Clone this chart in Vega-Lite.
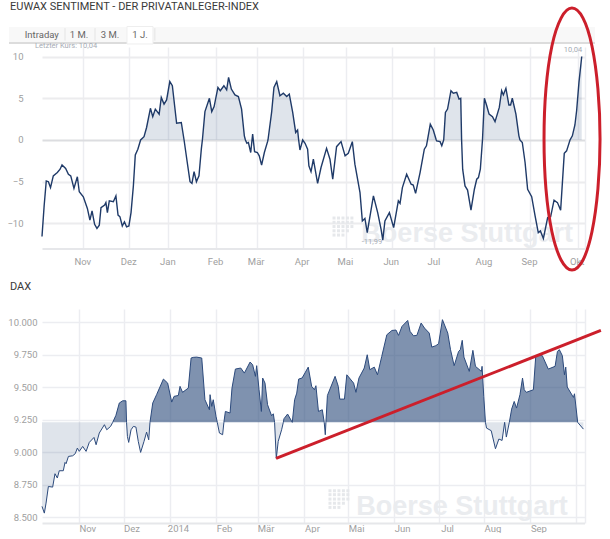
{
  "$schema": "https://vega.github.io/schema/vega-lite/v6.json",
  "padding": {"left": 6, "top": 1, "right": 0, "bottom": 0},
  "background": "white",
  "bounds": "flush",
  "spacing": 60,
  "config": {
    "view": {"stroke": null},
    "font": "Roboto",
    "axis": {"title": null, "ticks": false, "labelColor": "#a0a0a0", "labelFontSize": 9.5, "grid": true, "gridColor": "#ecedf1", "gridWidth": 1.5, "domain": false},
    "title": {"font": "Roboto", "fontWeight": "normal", "fontSize": 11, "color": "#3a3a3a", "anchor": "start", "frame": "group", "dx": -32}
  },
  "vconcat": [
    {
      "title": {"text": "EUWAX SENTIMENT - DER PRIVATANLEGER-INDEX", "offset": -10},
      "width": 542.5,
      "height": 201.5,
      "encoding": {
        "x": {
          "field": "t", "type": "quantitative",
          "scale": {"domain": [0, 254.7], "nice": false, "zero": false},
          "axis": {
            "values": [19.4, 41, 59.3, 81.7, 100.8, 122.4, 142.7, 164.2, 184.2, 207.7, 229.1, 251.5, 254.7],
            "labelExpr": "['Nov','Dez','Jan','Feb','Mär','Apr','Mai','Jun','Jul','Aug','Sep','Okt',''][indexof([19.4,41,59.3,81.7,100.8,122.4,142.7,164.2,184.2,207.7,229.1,251.5,254.7],datum.value)]",
            "labelOffset": -1, "labelPadding": 8, "domain": true, "domainColor": "#e6e7ea", "domainWidth": 2, "labelOverlap": false, "labelFlush": false
          }
        },
        "y": {
          "field": "v", "type": "quantitative",
          "scale": {"domain": [-13, 11.14], "nice": false, "zero": false},
          "axis": {
            "values": [-10, -5, 0, 5, 10], "format": "d", "labelPadding": 19,
            "gridColor": {"condition": {"test": "datum.value === 0", "value": "#dcdde0"}, "value": "#ececee"}, "gridWidth": 2
          }
        }
      },
      "layer": [
        {
          "data": {"values": [{"t": -15.5, "t2": 259.6, "v": 13.55, "v2": 11.75}]},
          "mark": {"type": "rect", "color": "#f8f8f8"},
          "encoding": {"x2": {"field": "t2"}, "y2": {"field": "v2"}}
        },
        {
          "data": {"values": [{"t": -15.5, "t2": 259.6, "v": 11.75, "v2": 11.5}]},
          "mark": {"type": "rect", "color": "#dcdcdc"},
          "encoding": {"x2": {"field": "t2"}, "y2": {"field": "v2"}}
        },
        {
          "data": {"values": [{"t": 39.9, "t2": 52.1, "v": 13.6, "v2": 11.5}]},
          "mark": {"type": "rect", "color": "white", "stroke": "#eeeeee"},
          "encoding": {"x2": {"field": "t2"}, "y2": {"field": "v2"}}
        },
        {
          "data": {"values": [{"t": 10.8, "v": 13.4, "v2": 11.9}, {"t": 24.9, "v": 13.4, "v2": 11.9}, {"t": 53, "v": 13.4, "v2": 11.9}]},
          "mark": {"type": "rule", "color": "#e4e4e4"},
          "encoding": {"y2": {"field": "v2"}}
        },
        {
          "data": {"values": [
            {"t": -0.1, "v": 12.58, "label": "Intraday"},
            {"t": 17.4, "v": 12.58, "label": "1 M."},
            {"t": 31.9, "v": 12.58, "label": "3 M."},
            {"t": 46, "v": 12.58, "label": "1 J."}
          ]},
          "mark": {"type": "text", "fontSize": 9.5, "color": "#666666"},
          "encoding": {"text": {"field": "label"}}
        },
        {
          "data": {"values": [{"t": 199.6, "v": -11.3, "label": "Boerse Stuttgart"}]},
          "mark": {"type": "text", "font": "Liberation Sans", "fontWeight": "bold", "fontSize": 27, "color": "#eaecef"},
          "encoding": {"text": {"field": "label"}}
        },
        {
          "data": {"values": [
            {"t":137.1,"v":-9.35},{"t":139.2,"v":-9.35},{"t":141.3,"v":-9.35},{"t":143.4,"v":-9.35},{"t":145.5,"v":-9.35},
            {"t":137.1,"v":-9.86},{"t":139.2,"v":-9.86},{"t":141.3,"v":-9.86},{"t":143.4,"v":-9.86},{"t":145.5,"v":-9.86},
            {"t":137.1,"v":-10.37},{"t":139.2,"v":-10.37},{"t":141.3,"v":-10.37},{"t":143.4,"v":-10.37},{"t":145.5,"v":-10.37},
            {"t":137.1,"v":-10.88},{"t":139.2,"v":-10.88},{"t":141.3,"v":-10.88},{"t":143.4,"v":-10.88},
            {"t":137.1,"v":-11.39},{"t":139.2,"v":-11.39},{"t":141.3,"v":-11.39}
          ]},
          "mark": {"type": "point", "shape": "square", "filled": true, "size": 9, "color": "#e6e8eb", "opacity": 1}
        },
        {
          "data": {"name": "euwax"},
          "transform": [{"filter": "datum.v >= 0"}],
          "mark": {"type": "area", "color": "#2a4a7a", "opacity": 0.15},
          "encoding": {"y2": {"datum": 0}}
        },
        {
          "data": {"name": "euwax"},
          "mark": {"type": "line", "color": "#1f3a68", "strokeWidth": 1.4}
        },
        {
          "data": {"values": [
            {"t": 11.3, "v": 11.25, "label": "Letzter Kurs: 10,04"},
            {"t": 249.3, "v": 10.8, "label": "10,04"},
            {"t": 154.9, "v": -12.2, "label": "-11,99"}
          ]},
          "mark": {"type": "text", "fontSize": 7.5, "color": "#a6abb4"},
          "encoding": {"text": {"field": "label"}}
        },
        {
          "data": {"values": [
            {"i":0,"t":262,"v":0.12},{"i":1,"t":261,"v":6.11},{"i":2,"t":258.2,"v":11.26},{"i":3,"t":254,"v":14.6},
            {"i":4,"t":248.8,"v":15.8},{"i":5,"t":243.7,"v":14.6},{"i":6,"t":239.4,"v":11.26},{"i":7,"t":236.6,"v":6.11},
            {"i":8,"t":235.7,"v":0.12},{"i":9,"t":236.6,"v":-5.87},{"i":10,"t":239.4,"v":-11},{"i":11,"t":243.7,"v":-14.37},
            {"i":12,"t":248.8,"v":-15.57},{"i":13,"t":254,"v":-14.37},{"i":14,"t":258.2,"v":-11},{"i":15,"t":261,"v":-5.87}
          ]},
          "mark": {"type": "line", "color": "#cc1f2b", "strokeWidth": 3, "interpolate": "cardinal-closed"},
          "encoding": {"order": {"field": "i", "type": "quantitative"}}
        }
      ]
    },
    {
      "title": {"text": "DAX", "offset": 17},
      "width": 542.5,
      "height": 214,
      "encoding": {
        "x": {
          "field": "t", "type": "quantitative",
          "scale": {"domain": [0, 254.7], "nice": false, "zero": false},
          "axis": {
            "values": [17.5, 38.3, 60.1, 81.7, 101.2, 123, 143.7, 165.3, 186.4, 207.7, 229.3, 250.6, 254.7],
            "labelExpr": "['Nov','Dez','2014','Feb','Mär','Apr','Mai','Jun','Jul','Aug','Sep','',''][indexof([17.5,38.3,60.1,81.7,101.2,123,143.7,165.3,186.4,207.7,229.3,250.6,254.7],datum.value)]",
            "labelOffset": 8, "labelPadding": 0, "domain": true, "domainColor": "#e6e7ea", "domainWidth": 2, "labelOverlap": false, "labelFlush": false
          }
        },
        "y": {
          "field": "v", "type": "quantitative",
          "scale": {"domain": [8457, 10103], "nice": false, "zero": false},
          "axis": {
            "values": [8500, 8750, 9000, 9250, 9500, 9750, 10000],
            "labelExpr": "replace(format(datum.value, ','), ',', '.')", "labelPadding": 5
          }
        }
      },
      "layer": [
        {
          "data": {"values": [{"t": 197.2, "v": 8583, "label": "Boerse Stuttgart"}]},
          "mark": {"type": "text", "font": "Liberation Sans", "fontWeight": "bold", "fontSize": 27, "color": "#eaecef"},
          "encoding": {"text": {"field": "label"}}
        },
        {
          "data": {"values": [
            {"t":135.2,"v":8705},{"t":137.3,"v":8705},{"t":139.4,"v":8705},{"t":141.5,"v":8705},{"t":143.6,"v":8705},
            {"t":135.2,"v":8675},{"t":137.3,"v":8675},{"t":139.4,"v":8675},{"t":141.5,"v":8675},{"t":143.6,"v":8675},
            {"t":135.2,"v":8641},{"t":137.3,"v":8641},{"t":139.4,"v":8641},{"t":141.5,"v":8641},{"t":143.6,"v":8641},
            {"t":135.2,"v":8609},{"t":137.3,"v":8609},{"t":139.4,"v":8609},{"t":141.5,"v":8609},
            {"t":135.2,"v":8577},{"t":137.3,"v":8577},{"t":139.4,"v":8577}
          ]},
          "mark": {"type": "point", "shape": "square", "filled": true, "size": 9, "color": "#e6e8eb", "opacity": 1}
        },
        {
          "data": {"name": "dax"},
          "transform": [{"filter": "datum.v <= 9231"}],
          "mark": {"type": "area", "color": "#2a4a7a", "opacity": 0.15},
          "encoding": {"y2": {"datum": 9231}}
        },
        {
          "data": {"name": "dax"},
          "transform": [{"filter": "datum.v >= 9231"}],
          "mark": {"type": "area", "color": "#2a4a7a", "opacity": 0.6},
          "encoding": {"y2": {"datum": 9231}}
        },
        {
          "data": {"name": "dax"},
          "mark": {"type": "line", "color": "#2c4a7c", "strokeWidth": 1}
        },
        {
          "data": {"values": [{"t": 109.9, "v": 8954}, {"t": 262.4, "v": 9938}]},
          "mark": {"type": "line", "color": "#cc1f2b", "strokeWidth": 3}
        }
      ]
    }
  ],
  "datasets": {
    "euwax": [
      {"t":0,"v":-11.56},{"t":1,"v":-7.9},{"t":2,"v":-4.9},{"t":3,"v":-5},{"t":4,"v":-5.7},{"t":5.3,"v":-4.3},{"t":7.2,"v":-3.9},{"t":8.5,"v":-3.5},{"t":9.4,"v":-3},{"t":11.1,"v":-3.4},
      {"t":12.4,"v":-4.1},{"t":13.5,"v":-4.3},{"t":15,"v":-5.8},{"t":16.6,"v":-4.4},{"t":17.5,"v":-6.2},{"t":19.4,"v":-6.8},{"t":21.3,"v":-8.2},{"t":22.5,"v":-9.6},{"t":23.5,"v":-8.5},{"t":24.7,"v":-10.1},
      {"t":25.8,"v":-10.6},{"t":26.9,"v":-10.2},{"t":27.7,"v":-8.1},{"t":29.4,"v":-7.8},{"t":30,"v":-7.5},{"t":30.7,"v":-8.7},{"t":31.6,"v":-7.3},{"t":33.5,"v":-7.4},{"t":34.7,"v":-6.7},{"t":35.7,"v":-9},
      {"t":36.6,"v":-9.2},{"t":37.7,"v":-10.3},{"t":38.7,"v":-9.8},{"t":39.7,"v":-10.4},{"t":40.8,"v":-10.3},{"t":41.8,"v":-8.7},{"t":42.9,"v":-5.5},{"t":43.8,"v":-1.8},{"t":45,"v":-1.1},{"t":46.3,"v":0},
      {"t":47.9,"v":0.4},{"t":49.1,"v":1.5},{"t":50.9,"v":3.8},{"t":52,"v":2.8},{"t":53.2,"v":3.7},{"t":55,"v":3.1},{"t":56,"v":5.1},{"t":57.3,"v":4.3},{"t":58.5,"v":4.8},{"t":60,"v":7},
      {"t":61.2,"v":6.5},{"t":63.2,"v":2},{"t":65.4,"v":2.1},{"t":66.7,"v":0},{"t":68.2,"v":-2.7},{"t":69.5,"v":-5},{"t":70.4,"v":-5.2},{"t":71.4,"v":-3.8},{"t":72.5,"v":-5},{"t":73.7,"v":-4.3},
      {"t":74.8,"v":-1.1},{"t":75.3,"v":0},{"t":76.5,"v":3.4},{"t":78.6,"v":5},{"t":79.7,"v":3.4},{"t":80.8,"v":4},{"t":82.6,"v":6.3},{"t":83.7,"v":5.9},{"t":85.4,"v":6.5},{"t":86.7,"v":6},
      {"t":87.6,"v":7.5},{"t":88.9,"v":6.1},{"t":90.6,"v":5.4},{"t":92.2,"v":5.2},{"t":93.7,"v":3.7},{"t":95,"v":0.5},{"t":95.5,"v":0},{"t":96.2,"v":-0.4},{"t":96.9,"v":-0.3},{"t":98,"v":-1.5},
      {"t":98.6,"v":0},{"t":98.9,"v":0.7},{"t":99.2,"v":0},{"t":99.8,"v":-1.4},{"t":101.1,"v":-1.5},{"t":102,"v":-1.9},{"t":103.1,"v":-3},{"t":104.4,"v":-1.5},{"t":105.9,"v":-0.2},{"t":106.1,"v":0},
      {"t":107.8,"v":3.3},{"t":108.9,"v":6.3},{"t":110.2,"v":7},{"t":111.7,"v":5.3},{"t":113.3,"v":5.6},{"t":114.9,"v":5.2},{"t":116.1,"v":5.5},{"t":117.7,"v":3.3},{"t":119.1,"v":0.9},{"t":120,"v":1.2},
      {"t":120.5,"v":0},{"t":121.1,"v":-1.2},{"t":122.4,"v":0},{"t":123.5,"v":-0.4},{"t":124.7,"v":-1.1},{"t":125.3,"v":-3.1},{"t":126.3,"v":-3.8},{"t":127.4,"v":-2.3},{"t":129.4,"v":-5.2},{"t":131,"v":-3.3},
      {"t":133.6,"v":-1},{"t":135.2,"v":-2.3},{"t":136.5,"v":-4.7},{"t":138.3,"v":-0.8},{"t":140.4,"v":-0.2},{"t":142.3,"v":-1.9},{"t":143.8,"v":-1.6},{"t":145.7,"v":-0.2},{"t":146.9,"v":-2.9},{"t":149.3,"v":-6.3},
      {"t":150.4,"v":-9.7},{"t":151.6,"v":-9.4},{"t":152.7,"v":-11.1},{"t":155.6,"v":-6.7},{"t":157.6,"v":-8.7},{"t":159.2,"v":-10.7},{"t":160,"v":-12},{"t":161,"v":-9.7},{"t":163.1,"v":-8.7},{"t":165.1,"v":-10.5},
      {"t":167.3,"v":-7.3},{"t":168.1,"v":-7.6},{"t":169.2,"v":-5.7},{"t":171.2,"v":-4.1},{"t":173.3,"v":-5.3},{"t":174.3,"v":-5.4},{"t":175.4,"v":-6.4},{"t":177.5,"v":-3.9},{"t":179.5,"v":-1.1},{"t":180.5,"v":-0.7},
      {"t":181,"v":0},{"t":182.3,"v":1.9},{"t":183.7,"v":1.2},{"t":185.1,"v":0},{"t":185.3,"v":-0.1},{"t":186.9,"v":-0.2},{"t":187.7,"v":-0.7},{"t":188.6,"v":0},{"t":189.4,"v":3.3},{"t":190.4,"v":3.7},
      {"t":192,"v":5.9},{"t":193.1,"v":5.6},{"t":194.7,"v":5.7},{"t":195.8,"v":4.9},{"t":196.6,"v":5},{"t":197,"v":0},{"t":197.5,"v":-3.5},{"t":198.6,"v":-5.5},{"t":199.8,"v":-6},{"t":201.4,"v":-8.4},
      {"t":203,"v":-5.9},{"t":204.1,"v":-4.7},{"t":204.9,"v":-4.5},{"t":205.8,"v":-3.5},{"t":206.8,"v":0},{"t":207.7,"v":5},{"t":208.8,"v":4.1},{"t":209.9,"v":3.1},{"t":211.5,"v":2.8},{"t":212.7,"v":2.2},
      {"t":214.7,"v":3.9},{"t":215.8,"v":5.9},{"t":216.6,"v":5.4},{"t":217.8,"v":6.2},{"t":219.2,"v":4.2},{"t":220,"v":4.2},{"t":220.8,"v":5},{"t":222.5,"v":3.1},{"t":223.9,"v":0.5},{"t":224.4,"v":0},
      {"t":225.5,"v":-0.3},{"t":226.8,"v":-2.7},{"t":228,"v":-5.9},{"t":229.9,"v":-6.8},{"t":231.5,"v":-9.1},{"t":233,"v":-11.1},{"t":234,"v":-10.9},{"t":235.4,"v":-11.8},{"t":237.4,"v":-9.3},{"t":238.8,"v":-9.2},
      {"t":240.4,"v":-7.2},{"t":242,"v":-7.5},{"t":243.5,"v":-8.4},{"t":245.2,"v":-1.6},{"t":246.3,"v":-1.3},{"t":247.9,"v":0},{"t":249,"v":0.5},{"t":250.2,"v":1.8},{"t":251,"v":3.5},{"t":252.1,"v":6.9},{"t":253.4,"v":10}
    ],
    "dax": [
      {"t":0,"v":8585},{"t":1.1,"v":8533},{"t":1.9,"v":8610},{"t":3,"v":8738},{"t":5,"v":8733},{"t":6.1,"v":8836},{"t":7.2,"v":8803},{"t":8.1,"v":8859},{"t":10,"v":8859},{"t":10.8,"v":8923},
      {"t":11.3,"v":8913},{"t":12.4,"v":8969},{"t":14.4,"v":8974},{"t":15.6,"v":8990},{"t":16.6,"v":9033},{"t":17.5,"v":9008},{"t":19.1,"v":9046},{"t":20.7,"v":9008},{"t":22.2,"v":9077},{"t":24.4,"v":9115},
      {"t":25.4,"v":9059},{"t":26.9,"v":9149},{"t":29.3,"v":9213},{"t":30.4,"v":9174},{"t":32.2,"v":9200},{"t":33.2,"v":9231},{"t":34.7,"v":9285},{"t":36.3,"v":9380},{"t":37.9,"v":9397},{"t":39.4,"v":9397},
      {"t":39.7,"v":9231},{"t":40.1,"v":9123},{"t":40.7,"v":9077},{"t":41.8,"v":9174},{"t":42.9,"v":9200},{"t":44.1,"v":9195},{"t":45.2,"v":9085},{"t":46.3,"v":9000},{"t":47.9,"v":9085},{"t":49.1,"v":9156},
      {"t":50.1,"v":9097},{"t":50.7,"v":9231},{"t":52,"v":9380},{"t":53.8,"v":9444},{"t":57,"v":9564},{"t":59,"v":9533},{"t":60.9,"v":9387},{"t":62,"v":9431},{"t":64,"v":9438},{"t":64.8,"v":9508},
      {"t":66,"v":9462},{"t":68.7,"v":9495},{"t":70,"v":9726},{"t":71,"v":9731},{"t":72.6,"v":9733},{"t":75,"v":9726},{"t":76.5,"v":9405},{"t":78.6,"v":9328},{"t":78.9,"v":9444},{"t":79.7,"v":9354},
      {"t":80.4,"v":9405},{"t":81.7,"v":9277},{"t":82.3,"v":9231},{"t":83.3,"v":9149},{"t":84.8,"v":9136},{"t":85.4,"v":9231},{"t":86.1,"v":9315},{"t":88.3,"v":9303},{"t":89.2,"v":9495},{"t":90.8,"v":9641},
      {"t":93.3,"v":9649},{"t":95,"v":9610},{"t":97.7,"v":9695},{"t":98.9,"v":9674},{"t":100.2,"v":9585},{"t":100.8,"v":9667},{"t":101.9,"v":9482},{"t":103,"v":9315},{"t":103.6,"v":9572},{"t":104.7,"v":9533},
      {"t":105.9,"v":9367},{"t":107.8,"v":9282},{"t":108.6,"v":9297},{"t":109.2,"v":9231},{"t":110,"v":8954},{"t":110.9,"v":9085},{"t":112.5,"v":9174},{"t":113.3,"v":9231},{"t":113.6,"v":9259},{"t":115.3,"v":9295},
      {"t":117.5,"v":9231},{"t":118.6,"v":9405},{"t":119.6,"v":9456},{"t":120.5,"v":9564},{"t":122.1,"v":9572},{"t":123.5,"v":9612},{"t":125,"v":9656},{"t":126.6,"v":9508},{"t":127.9,"v":9482},{"t":128.6,"v":9513},
      {"t":129.8,"v":9315},{"t":131.6,"v":9328},{"t":132.5,"v":9231},{"t":133,"v":9136},{"t":133.3,"v":9231},{"t":134,"v":9438},{"t":137.6,"v":9585},{"t":139.1,"v":9508},{"t":139.8,"v":9410},{"t":142,"v":9410},
      {"t":143.1,"v":9597},{"t":146.3,"v":9533},{"t":147.4,"v":9462},{"t":148.8,"v":9572},{"t":151.3,"v":9649},{"t":152.7,"v":9751},{"t":153.9,"v":9636},{"t":156,"v":9656},{"t":157.5,"v":9597},{"t":159.5,"v":9738},
      {"t":161.9,"v":9905},{"t":164.3,"v":9938},{"t":166.2,"v":9941},{"t":167.4,"v":9900},{"t":169,"v":9969},{"t":171.7,"v":10015},{"t":172.8,"v":9931},{"t":174.4,"v":9897},{"t":176,"v":9900},{"t":178,"v":9995},
      {"t":179.6,"v":9956},{"t":181.8,"v":9918},{"t":183,"v":9810},{"t":184.9,"v":9821},{"t":186.2,"v":9836},{"t":188,"v":10021},{"t":190.5,"v":9918},{"t":191.8,"v":9790},{"t":193.5,"v":9667},{"t":195.6,"v":9777},
      {"t":196.4,"v":9790},{"t":197.3,"v":9862},{"t":198.1,"v":9733},{"t":200.6,"v":9623},{"t":202.3,"v":9785},{"t":203.5,"v":9662},{"t":206.3,"v":9623},{"t":206.6,"v":9662},{"t":207.4,"v":9431},{"t":208.2,"v":9231},
      {"t":208.7,"v":9187},{"t":210.9,"v":9167},{"t":212.9,"v":9028},{"t":214.5,"v":9103},{"t":216,"v":9092},{"t":217.2,"v":9231},{"t":218,"v":9118},{"t":219.4,"v":9231},{"t":220.5,"v":9333},{"t":221.7,"v":9392},
      {"t":222.8,"v":9341},{"t":224.4,"v":9444},{"t":225.6,"v":9572},{"t":226.4,"v":9482},{"t":227.4,"v":9462},{"t":230.7,"v":9482},{"t":231.8,"v":9738},{"t":233,"v":9746},{"t":234.9,"v":9744},{"t":237.7,"v":9641},
      {"t":240.9,"v":9662},{"t":242,"v":9777},{"t":242.9,"v":9790},{"t":244.3,"v":9744},{"t":245.3,"v":9597},{"t":245.9,"v":9656},{"t":246.6,"v":9503},{"t":249.5,"v":9423},{"t":250,"v":9451},{"t":251.5,"v":9231},{"t":254.2,"v":9179}
    ]
  }
}
